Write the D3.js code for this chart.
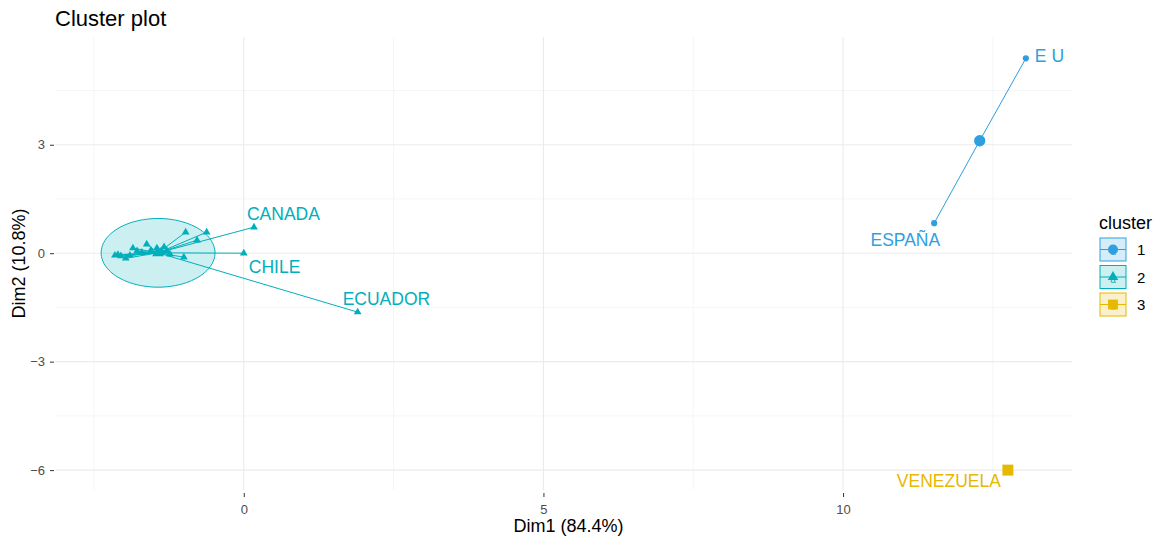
<!DOCTYPE html>
<html>
<head>
<meta charset="utf-8">
<script src="https://cdn.jsdelivr.net/npm/d3@7"></script>
<style>
  body { margin: 0; background: #fff; }
  svg { font-family: "Liberation Sans", Arial, sans-serif; }
</style>
</head>
<body>
<svg id="chart" width="1159" height="539"></svg>
<script>
// individuals: coordinates on the first two dimensions and cluster id
const labels = ['E U', 'ESPAÑA', 'VENEZUELA', 'CANADA', 'CHILE', 'ECUADOR',
  '', '', '', '', '', '', '', '', '', '', '', '', '', '', '', '', '', '', ''];
const dim1 = [13.05, 11.52, 12.75, 0.17, 0.0, 1.9,
  -2.15, -2.10, -2.05, -1.97, -1.90, -1.85, -1.78, -1.70, -1.62, -1.55,
  -1.45, -1.38, -1.33, -1.28, -1.23, -1.00, -0.97, -0.78, -0.62];
const dim2 = [5.39, 0.83, -6.0, 0.72, 0.0, -1.63,
  -0.06, -0.04, -0.08, -0.14, -0.06, 0.14, 0.06, 0.02, 0.25, 0.08,
  0.14, 0.06, 0.17, 0.06, -0.03, -0.11, 0.58, 0.36, 0.58];
const cluster = [1, 1, 3, 2, 2, 2,
  2, 2, 2, 2, 2, 2, 2, 2, 2, 2, 2, 2, 2, 2, 2, 2, 2, 2, 2];

// cluster centres
const clusters = [1, 2, 3];
const centerX = [12.28, -1.43, 12.75];
const centerY = [3.11, 0.01, -6.0];
const ellipseLevel = 0.95; // euclid circle radius

const xTicks = [0, 5, 10];
const yTicks = [-6, -3, 0, 3];

const colors = ['#2E9FDF', '#00AFBB', '#E7B800'];
const shapes = [d3.symbolCircle, d3.symbolTriangle, d3.symbolSquare];

// label nudges (px) as placed by the repel step
const labelPos = {
  'E U': [9, 4, 'start'],
  'ESPAÑA': [6, 23, 'end'],
  'VENEZUELA': [-7, 17, 'end'],
  'CANADA': [-7, -7, 'start'],
  'CHILE': [5, 20, 'start'],
  'ECUADOR': [-15, -7, 'start']
};

const svg = d3.select('#chart');
const panel = { left: 55, right: 1072, top: 37, bottom: 490 };

const x = d3.scaleLinear().domain([-3.15, 13.82]).range([panel.left, panel.right]);
const y = d3.scaleLinear().domain([-6.55, 5.98]).range([panel.bottom, panel.top]);

// grid
const grid = svg.append('g');
const minorX = [-2.5, 2.5, 7.5, 12.5];
const minorY = [-4.5, -1.5, 1.5, 4.5];
grid.selectAll('.mx').data(minorX).enter().append('line')
  .attr('x1', d => x(d)).attr('x2', d => x(d))
  .attr('y1', panel.top).attr('y2', panel.bottom)
  .attr('stroke', '#F2F2F2').attr('stroke-width', 0.8);
grid.selectAll('.my').data(minorY).enter().append('line')
  .attr('y1', d => y(d)).attr('y2', d => y(d))
  .attr('x1', panel.left).attr('x2', panel.right)
  .attr('stroke', '#F2F2F2').attr('stroke-width', 0.8);
grid.selectAll('.gx').data(xTicks).enter().append('line')
  .attr('x1', d => x(d)).attr('x2', d => x(d))
  .attr('y1', panel.top).attr('y2', panel.bottom)
  .attr('stroke', '#EBEBEB').attr('stroke-width', 1.1);
grid.selectAll('.gy').data(yTicks).enter().append('line')
  .attr('y1', d => y(d)).attr('y2', d => y(d))
  .attr('x1', panel.left).attr('x2', panel.right)
  .attr('stroke', '#EBEBEB').attr('stroke-width', 1.1);

// axes
const xAxis = svg.append('g')
  .attr('transform', 'translate(0,' + panel.bottom + ')')
  .call(d3.axisBottom(x).tickValues(xTicks).tickSize(5).tickPadding(10).tickFormat(d3.format('d')));
const yAxis = svg.append('g')
  .attr('transform', 'translate(' + (panel.left - 1) + ',0)')
  .call(d3.axisLeft(y).tickValues(yTicks).tickSize(4).tickPadding(5).tickFormat(d3.format('d')));
[xAxis, yAxis].forEach(a => {
  a.select('.domain').remove();
  a.selectAll('.tick line').attr('stroke', '#333333');
  a.selectAll('.tick text').attr('fill', '#4D4D4D')
    .style('font-size', '13px').style('font-family', '"Liberation Sans", Arial, sans-serif');
});
xAxis.selectAll('.tick line').attr('y1', 3).attr('y2', 7);

// ellipses (circle of radius ellipseLevel around each centre, in data units)
const angles = d3.range(0, 361, 3).map(a => a * Math.PI / 180);
const ellipseLine = d3.line();
const ellipses = svg.append('g');
clusters.forEach((c, i) => {
  const members = cluster.filter(k => k === c).length;
  if (members < 3) return;
  ellipses.append('path')
    .attr('d', ellipseLine(angles.map(a => [
      x(centerX[i] + ellipseLevel * Math.cos(a)),
      y(centerY[i] + ellipseLevel * Math.sin(a))
    ])) + 'Z')
    .attr('fill', colors[i]).attr('fill-opacity', 0.2)
    .attr('stroke', colors[i]).attr('stroke-width', 1);
});

// star segments from centre to each point
const rows = labels.map((l, i) => ({ label: l, x: dim1[i], y: dim2[i], c: cluster[i] }));
svg.append('g').selectAll('line').data(rows).enter().append('line')
  .attr('x1', d => x(centerX[d.c - 1])).attr('y1', d => y(centerY[d.c - 1]))
  .attr('x2', d => x(d.x)).attr('y2', d => y(d.y))
  .attr('stroke', d => colors[d.c - 1]).attr('stroke-width', 1);

// points
const pointSize = [30, 26, 36];
svg.append('g').selectAll('path').data(rows).enter().append('path')
  .attr('transform', d => 'translate(' + x(d.x) + ',' + y(d.y) + ')')
  .attr('d', d => d3.symbol().type(shapes[d.c - 1]).size(pointSize[d.c - 1])())
  .attr('fill', d => colors[d.c - 1]);

// centres
const centerSize = [100, 60, 120];
svg.append('g').selectAll('path').data(clusters).enter().append('path')
  .attr('transform', (c, i) => 'translate(' + x(centerX[i]) + ',' + y(centerY[i]) + ')')
  .attr('d', (c, i) => d3.symbol().type(shapes[i]).size(centerSize[i])())
  .attr('fill', (c, i) => colors[i]);

// labels
svg.append('g').selectAll('text').data(rows.filter(d => d.label)).enter().append('text')
  .attr('x', d => x(d.x) + labelPos[d.label][0])
  .attr('y', d => y(d.y) + labelPos[d.label][1])
  .attr('text-anchor', d => labelPos[d.label][2])
  .attr('fill', d => colors[d.c - 1])
  .style('font-size', '17.5px')
  .text(d => d.label);

// titles
svg.append('text').attr('x', 55).attr('y', 26)
  .style('font-size', '22px').attr('fill', '#000').text('Cluster plot');
svg.append('text').attr('x', (panel.left + panel.right) / 2 + 5).attr('y', 532)
  .attr('text-anchor', 'middle').style('font-size', '18px').attr('fill', '#000')
  .text('Dim1 (84.4%)');
svg.append('text')
  .attr('transform', 'translate(25,' + ((panel.top + panel.bottom) / 2) + ') rotate(-90)')
  .attr('text-anchor', 'middle').style('font-size', '18px').attr('fill', '#000')
  .text('Dim2 (10.8%)');

// legend
const legend = svg.append('g').attr('transform', 'translate(1099,0)');
legend.append('text').attr('x', 0).attr('y', 229)
  .style('font-size', '18px').attr('fill', '#000').text('cluster');
const keys = legend.selectAll('.key').data(clusters).enter().append('g')
  .attr('transform', (c, i) => 'translate(0,' + (238 + i * 27.5) + ')');
keys.append('rect').attr('x', 1).attr('y', 0).attr('width', 26).attr('height', 23)
  .attr('fill', (c, i) => colors[i]).attr('fill-opacity', 0.2)
  .attr('stroke', (c, i) => colors[i]).attr('stroke-width', 1);
keys.append('line').attr('x1', 1).attr('x2', 27).attr('y1', 11.5).attr('y2', 11.5)
  .attr('stroke', (c, i) => colors[i]).attr('stroke-width', 1);
keys.append('text').attr('x', 14).attr('y', 17).attr('text-anchor', 'middle')
  .style('font-size', '10px').attr('fill', (c, i) => colors[i]).text('a');
keys.append('path').attr('transform', 'translate(14,11.5)')
  .attr('d', (c, i) => d3.symbol().type(shapes[i]).size(centerSize[i] * 0.8)())
  .attr('fill', (c, i) => colors[i]);
keys.append('text').attr('x', 38).attr('y', 17)
  .style('font-size', '15px').attr('fill', '#000').text(c => c);
</script>
</body>
</html>
